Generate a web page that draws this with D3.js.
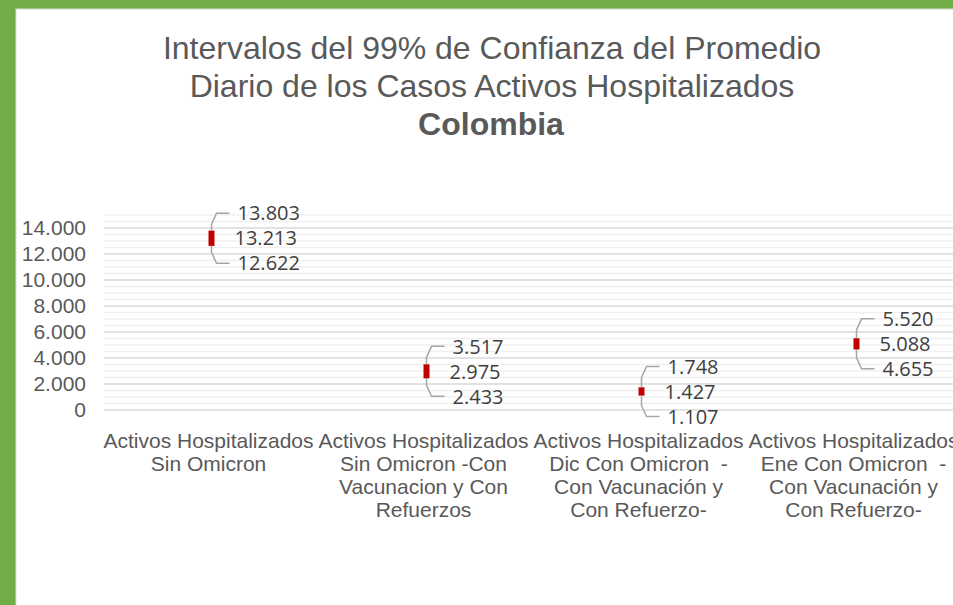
<!DOCTYPE html>
<html>
<head>
<meta charset="utf-8">
<script src="https://cdn.jsdelivr.net/npm/d3@7"></script>
<style>
  body { margin: 0; background: #fff; }
  svg { display: block; }
</style>
</head>
<body>
<div id="chart"></div>
<script>
const svgWidth = 953;
const svgHeight = 605;

// data
const categories = [
  ["Activos Hospitalizados", "Sin Omicron"],
  ["Activos Hospitalizados", "Sin Omicron -Con", "Vacunacion y Con", "Refuerzos"],
  ["Activos Hospitalizados", "Dic Con Omicron  -", "Con Vacunación y", "Con Refuerzo-"],
  ["Activos Hospitalizados", "Ene Con Omicron  -", "Con Vacunación y", "Con Refuerzo-"]
];
const highs = [13803, 3517, 1748, 5520];
const means = [13213, 2975, 1427, 5088];
const lows = [12622, 2433, 1107, 4655];
const yTicks = [0, 2000, 4000, 6000, 8000, 10000, 12000, 14000];
const titleLines = ["Intervalos del 99% de Confianza del Promedio", "Diario de los Casos Activos Hospitalizados"];
const titleBold = "Colombia";

const plot = { left: 104, right: 964, top: 215, bottom: 410 };

const loc = d3.formatLocale({ decimal: ",", thousands: ".", grouping: [3], currency: ["$", ""] });
const fmt = loc.format(",d");

let svg = d3.select("#chart").append("svg").attr("width", svgWidth).attr("height", svgHeight);

// green frame
svg.append("rect").attr("width", svgWidth).attr("height", svgHeight).attr("fill", "#70ad47");
svg.append("rect").attr("x", 16).attr("y", 9).attr("width", svgWidth).attr("height", svgHeight)
  .attr("fill", "#fff").attr("stroke", "#d9d9d9").attr("stroke-width", 1);

// title
let title = svg.append("text").attr("text-anchor", "middle")
  .attr("font-family", "'Liberation Sans', Arial, sans-serif").attr("font-size", 32).attr("fill", "#595959");
titleLines.forEach((t, i) => title.append("tspan").attr("x", 492).attr("y", 59 + i * 38).text(t));
title.append("tspan").attr("x", 491).attr("y", 135).attr("font-weight", "bold").text(titleBold);

let x = d3.scaleBand().domain(d3.range(categories.length)).range([plot.left, plot.right]);
let y = d3.scaleLinear().domain([0, 15000]).range([plot.bottom, plot.top]);

// gridlines: minor every 500, major every 2000
let minor = d3.range(0, 15001, 500).filter(v => v % 2000 !== 0);
svg.append("g").selectAll("line").data(minor).enter().append("line")
  .attr("x1", plot.left).attr("x2", plot.right)
  .attr("y1", d => y(d)).attr("y2", d => y(d))
  .attr("stroke", "#f0f0f0").attr("stroke-width", 1.5);
svg.append("g").selectAll("line").data(yTicks).enter().append("line")
  .attr("x1", plot.left).attr("x2", plot.right)
  .attr("y1", d => y(d)).attr("y2", d => y(d))
  .attr("stroke", "#d9d9d9").attr("stroke-width", 1.5);

// y axis
let yAxis = svg.append("g")
  .attr("transform", `translate(${plot.left - 14}, 0)`)
  .call(d3.axisLeft(y).tickValues(yTicks).tickFormat(d => fmt(d)).tickSize(0).tickPadding(4));
yAxis.select(".domain").remove();
yAxis.selectAll("text")
  .attr("font-family", "'Liberation Sans', Arial, sans-serif").attr("font-size", 21).attr("fill", "#595959");

// category labels
let xlbl = svg.append("g");
categories.forEach((lines, i) => {
  let t = xlbl.append("text").attr("text-anchor", "middle")
    .attr("font-family", "'Liberation Sans', Arial, sans-serif").attr("font-size", 21).attr("fill", "#595959");
  lines.forEach((l, j) => t.append("tspan")
    .attr("x", x(i) + x.bandwidth() / 2 - 3).attr("y", 448 + j * 23)
    .attr("xml:space", "preserve").text(l));
});

// high-low bars
let cx = i => x(i) + x.bandwidth() / 2;
svg.append("g").selectAll("rect").data(d3.range(categories.length)).enter().append("rect")
  .attr("x", i => cx(i) - 3).attr("width", 6)
  .attr("y", i => y(highs[i])).attr("height", i => y(lows[i]) - y(highs[i]))
  .attr("fill", "#c00000");

// leader lines and data labels
let lbl = svg.append("g");
d3.range(categories.length).forEach(i => {
  let my = y(means[i]);
  let hy = my - 25, ly = my + 25;
  let px = cx(i);
  lbl.append("path")
    .attr("d", `M${px},${y(highs[i])} L${px},${Math.min(y(highs[i]), hy + 11)} L${px + 5},${hy} L${px + 18},${hy}`)
    .attr("fill", "none").attr("stroke", "#a6a6a6").attr("stroke-width", 1.5);
  lbl.append("path")
    .attr("d", `M${px},${y(lows[i])} L${px},${Math.max(y(lows[i]), ly - 11)} L${px + 5},${ly} L${px + 18},${ly}`)
    .attr("fill", "none").attr("stroke", "#a6a6a6").attr("stroke-width", 1.5);
  [[highs[i], hy, 26], [means[i], my, 23], [lows[i], ly, 26]].forEach(([v, ty, dx]) => {
    lbl.append("text").attr("x", px + dx).attr("y", ty).attr("dy", "0.36em")
      .attr("font-family", "'Open Sans', sans-serif").attr("font-size", 20).attr("fill", "#404040")
      .text(fmt(v));
  });
});
</script>
</body>
</html>
